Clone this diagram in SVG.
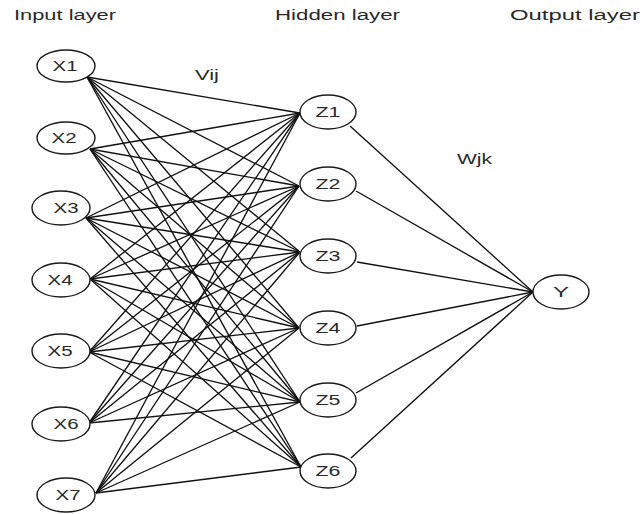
<svg xmlns="http://www.w3.org/2000/svg" width="644" height="514" viewBox="0 0 644 514">
  <style>
    .bg { fill: #ffffff; }
    .node ellipse { fill: #ffffff; stroke: #1a1a1a; stroke-width: 1.4; }
    .node text { font-family: "Liberation Sans", Arial, sans-serif; font-size: 14px; fill: #2a2a2a; text-anchor: middle; }
    .edges line { stroke: #111111; stroke-width: 1.35; }
    .label { font-family: "Liberation Sans", Arial, sans-serif; font-size: 14px; fill: #2a2a2a; }
  </style>
  <rect class="bg" x="0" y="0" width="644" height="514"/>

  <text class="label" x="14" y="20" textLength="102" lengthAdjust="spacingAndGlyphs">Input layer</text>
  <text class="label" x="275" y="20" textLength="125" lengthAdjust="spacingAndGlyphs">Hidden layer</text>
  <text class="label" x="510" y="20" textLength="130" lengthAdjust="spacingAndGlyphs">Output layer</text>
  <text class="label" x="195" y="80" textLength="24" lengthAdjust="spacingAndGlyphs">Vij</text>
  <text class="label" x="457" y="164" textLength="35" lengthAdjust="spacingAndGlyphs">Wjk</text>

  <g id="connectors" class="edges">
    <!-- X1 -->
    <line x1="87" y1="77" x2="300" y2="113"/>
    <line x1="87" y1="77" x2="299" y2="186"/>
    <line x1="87" y1="77" x2="300" y2="252"/>
    <line x1="87" y1="77" x2="299" y2="328"/>
    <line x1="87" y1="77" x2="300" y2="402"/>
    <line x1="87" y1="77" x2="301" y2="467"/>
    <!-- X2 -->
    <line x1="90" y1="149" x2="300" y2="113"/>
    <line x1="90" y1="149" x2="299" y2="186"/>
    <line x1="90" y1="149" x2="300" y2="252"/>
    <line x1="90" y1="149" x2="299" y2="328"/>
    <line x1="90" y1="149" x2="300" y2="402"/>
    <line x1="90" y1="149" x2="301" y2="467"/>
    <!-- X3 -->
    <line x1="86" y1="218" x2="300" y2="113"/>
    <line x1="86" y1="218" x2="299" y2="186"/>
    <line x1="86" y1="218" x2="300" y2="252"/>
    <line x1="86" y1="218" x2="299" y2="328"/>
    <line x1="86" y1="218" x2="300" y2="402"/>
    <line x1="86" y1="218" x2="301" y2="467"/>
    <!-- X4 -->
    <line x1="90" y1="279" x2="300" y2="113"/>
    <line x1="90" y1="279" x2="299" y2="186"/>
    <line x1="90" y1="279" x2="300" y2="252"/>
    <line x1="90" y1="279" x2="299" y2="328"/>
    <line x1="90" y1="279" x2="300" y2="402"/>
    <line x1="90" y1="279" x2="301" y2="467"/>
    <!-- X5 -->
    <line x1="89" y1="352" x2="300" y2="113"/>
    <line x1="89" y1="352" x2="299" y2="186"/>
    <line x1="89" y1="352" x2="300" y2="252"/>
    <line x1="89" y1="352" x2="299" y2="328"/>
    <line x1="89" y1="352" x2="300" y2="402"/>
    <line x1="89" y1="352" x2="301" y2="467"/>
    <!-- X6 -->
    <line x1="89" y1="423" x2="300" y2="113"/>
    <line x1="89" y1="423" x2="299" y2="186"/>
    <line x1="89" y1="423" x2="300" y2="252"/>
    <line x1="89" y1="423" x2="299" y2="328"/>
    <line x1="89" y1="423" x2="300" y2="402"/>
    <!-- X7 -->
    <line x1="96" y1="493" x2="300" y2="113"/>
    <line x1="96" y1="493" x2="299" y2="186"/>
    <line x1="96" y1="493" x2="300" y2="252"/>
    <line x1="96" y1="493" x2="299" y2="328"/>
    <line x1="96" y1="493" x2="300" y2="402"/>
    <line x1="96" y1="493" x2="301" y2="467"/>
    <!-- Z to Y -->
    <line x1="350" y1="126" x2="533" y2="292"/>
    <line x1="356" y1="191" x2="533" y2="292"/>
    <line x1="357" y1="262" x2="533" y2="292"/>
    <line x1="357" y1="326" x2="533" y2="292"/>
    <line x1="356" y1="393" x2="533" y2="292"/>
    <line x1="351" y1="458" x2="533" y2="292"/>
  </g>

  <g id="X1" class="node"><ellipse cx="66" cy="66" rx="29" ry="16"/><text x="65" y="71" textLength="25" lengthAdjust="spacingAndGlyphs">X1</text></g>
  <g id="X2" class="node"><ellipse cx="66" cy="138" rx="29" ry="16"/><text x="64" y="143" textLength="25" lengthAdjust="spacingAndGlyphs">X2</text></g>
  <g id="X3" class="node"><ellipse cx="61" cy="208" rx="29" ry="17"/><text x="66" y="213" textLength="25" lengthAdjust="spacingAndGlyphs">X3</text></g>
  <g id="X4" class="node"><ellipse cx="61" cy="280" rx="29" ry="17"/><text x="60" y="285" textLength="25" lengthAdjust="spacingAndGlyphs">X4</text></g>
  <g id="X5" class="node"><ellipse cx="61" cy="351" rx="29" ry="17"/><text x="60" y="356" textLength="25" lengthAdjust="spacingAndGlyphs">X5</text></g>
  <g id="X6" class="node"><ellipse cx="61" cy="424" rx="29" ry="17"/><text x="66" y="429" textLength="25" lengthAdjust="spacingAndGlyphs">X6</text></g>
  <g id="X7" class="node"><ellipse cx="66" cy="495" rx="29" ry="17"/><text x="68" y="500" textLength="25" lengthAdjust="spacingAndGlyphs">X7</text></g>

  <g id="Z1" class="node"><ellipse cx="328" cy="112" rx="28" ry="17"/><text x="328" y="117" textLength="25" lengthAdjust="spacingAndGlyphs">Z1</text></g>
  <g id="Z2" class="node"><ellipse cx="328" cy="184" rx="28" ry="17"/><text x="328" y="189" textLength="25" lengthAdjust="spacingAndGlyphs">Z2</text></g>
  <g id="Z3" class="node"><ellipse cx="328" cy="256" rx="28" ry="17"/><text x="328" y="261" textLength="25" lengthAdjust="spacingAndGlyphs">Z3</text></g>
  <g id="Z4" class="node"><ellipse cx="328" cy="328" rx="28" ry="17"/><text x="328" y="333" textLength="25" lengthAdjust="spacingAndGlyphs">Z4</text></g>
  <g id="Z5" class="node"><ellipse cx="328" cy="400" rx="28" ry="17"/><text x="328" y="405" textLength="25" lengthAdjust="spacingAndGlyphs">Z5</text></g>
  <g id="Z6" class="node"><ellipse cx="328" cy="471" rx="28" ry="17"/><text x="328" y="476" textLength="25" lengthAdjust="spacingAndGlyphs">Z6</text></g>

  <g id="Y" class="node"><ellipse cx="561" cy="292" rx="28" ry="17"/><text x="561" y="297" textLength="16" lengthAdjust="spacingAndGlyphs">Y</text></g>
</svg>
